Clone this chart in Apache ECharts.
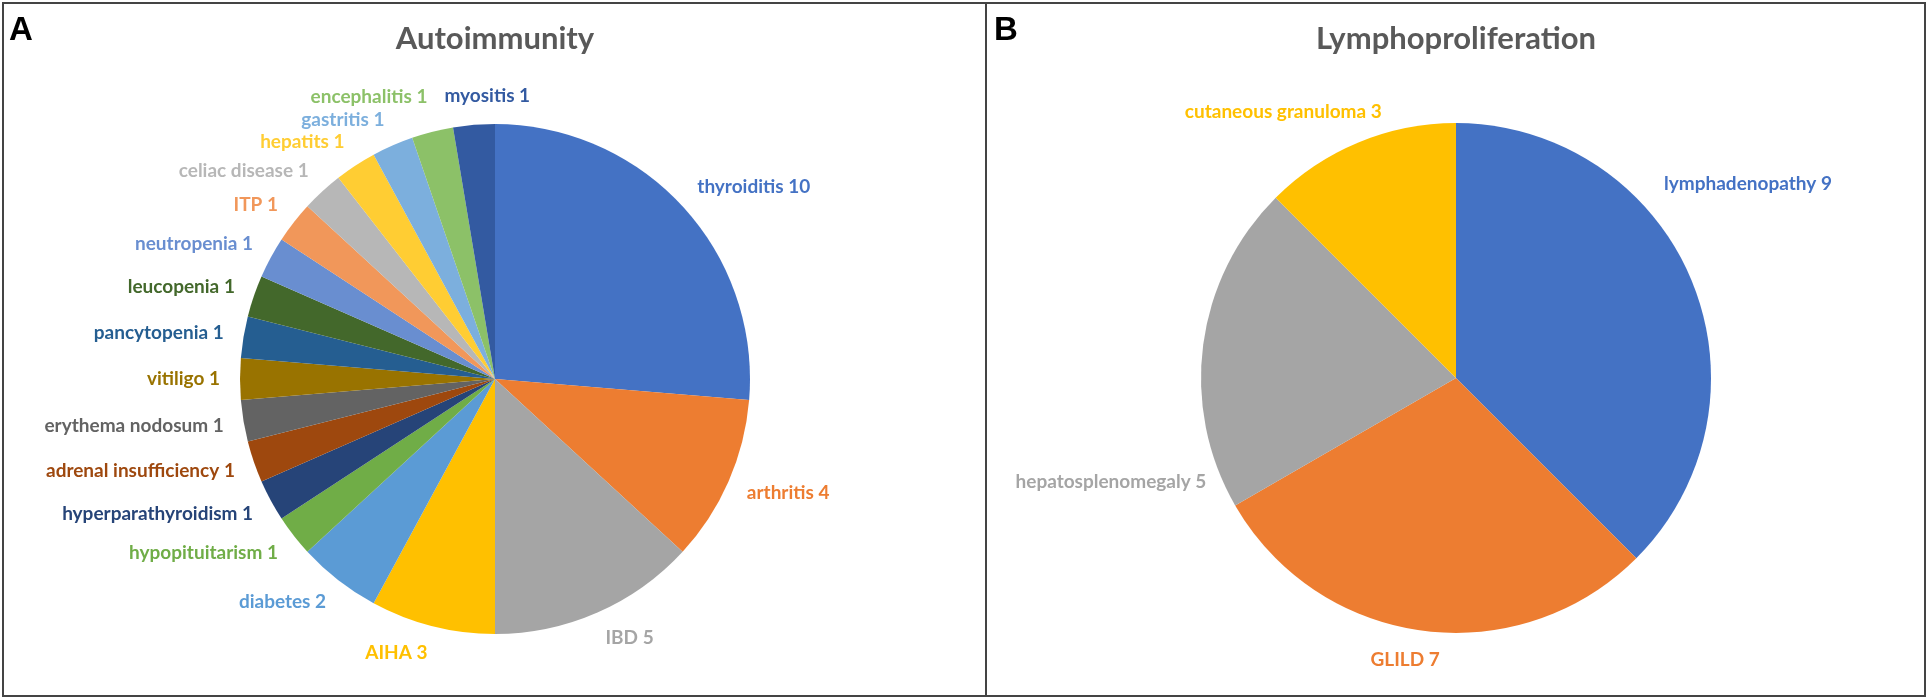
<!DOCTYPE html>
<html>
<head>
<meta charset="utf-8">
<script src="https://cdn.jsdelivr.net/npm/echarts@6/dist/echarts.min.js"></script>
<style>
  html, body { margin: 0; padding: 0; background: #fff; }
  #chart { width: 1928px; height: 699px; }
</style>
</head>
<body>
<div id="chart"></div>
<script>
// panel A - autoimmunity
var autoNames = ['thyroiditis', 'arthritis', 'IBD', 'AIHA', 'diabetes', 'hypopituitarism',
  'hyperparathyroidism', 'adrenal insufficiency', 'erythema nodosum', 'vitiligo', 'pancytopenia',
  'leucopenia', 'neutropenia', 'ITP', 'celiac disease', 'hepatits', 'gastritis', 'encephalitis', 'myositis']
var autoValues = [10, 4, 5, 3, 2, 1, 1, 1, 1, 1, 1, 1, 1, 1, 1, 1, 1, 1, 1]
var autoColors = ['#4472C4', '#ED7D31', '#A5A5A5', '#FFC000', '#5B9BD5', '#70AD47', '#264478',
  '#9E480E', '#636363', '#997300', '#255E91', '#43682B', '#698ED0', '#F1975A', '#B7B7B7',
  '#FFCD33', '#7CAFDD', '#8CC168', '#335AA1']

// panel B - lymphoproliferation
var lymphNames = ['lymphadenopathy', 'GLILD', 'hepatosplenomegaly', 'cutaneous granuloma']
var lymphValues = [9, 7, 5, 3]
var lymphColors = ['#4472C4', '#ED7D31', '#A5A5A5', '#FFC000']

var R = 255
var GAP = 20
var centerA = [495, 379]
var centerB = [1456, 378]
var labelFont = 'Lato, "Open Sans", sans-serif'

// labels that excel moved off the default spot
var nudgeA = { myositis: [15, 0], encephalitis: [0, -8] }
var nudgeB = { lymphadenopathy: [-46, -86], hepatosplenomegaly: [23, 141], 'cutaneous granuloma': [31, -5], GLILD: [-15, 0] }

function toData(names, values, colors) {
  return names.map(function (n, i) {
    return {
      name: n, value: values[i],
      itemStyle: { color: colors[i] },
      label: { color: colors[i] }
    }
  })
}

// "outside end" label like excel: anchored at the slice middle angle
function outsideEnd(values, center, nudge) {
  var total = values.reduce(function (a, b) { return a + b }, 0)
  return function (params) {
    var i = params.dataIndex
    var cum = 0
    for (var k = 0; k < i; k++) cum += values[k]
    var t = 2 * Math.PI * (cum + values[i] / 2) / total
    var s = Math.sin(t), c = Math.cos(t)
    var x = center[0] + (R + GAP) * s
    var y = center[1] - (R + GAP) * c
    var align, va = 'middle'
    if (Math.abs(s) < 0.15) {
      align = 'center'
      va = c > 0 ? 'bottom' : 'top'
    } else {
      align = s > 0 ? 'left' : 'right'
      y -= c * 8
    }
    var n = nudge && nudge[params.text.replace(/ \d+$/, '')]
    if (n) { x += n[0]; y += n[1] }
    return { x: x, y: y, align: align, verticalAlign: va }
  }
}

function pieSeries(names, values, colors, center, nudge) {
  return {
    type: 'pie',
    center: center,
    radius: R,
    startAngle: 90,
    clockwise: true,
    avoidLabelOverlap: false,
    animation: false,
    silent: true,
    itemStyle: { borderWidth: 0 },
    label: {
      show: true,
      position: 'outside',
      formatter: '{b} {c}',
      fontFamily: labelFont,
      fontWeight: 'bold',
      fontSize: 19
    },
    labelLine: { show: false },
    labelLayout: outsideEnd(values, center, nudge),
    data: toData(names, values, colors)
  }
}

var myChart = echarts.init(document.getElementById('chart'))
var option = {
  backgroundColor: '#fff',
  graphic: [
    // panel frames
    { type: 'rect', shape: { x: 3, y: 3, width: 983, height: 693 }, style: { fill: 'none', stroke: '#444', lineWidth: 2 } },
    { type: 'rect', shape: { x: 986, y: 3, width: 939, height: 693 }, style: { fill: 'none', stroke: '#444', lineWidth: 2 } },
    { type: 'text', x: 9, y: 14, style: { text: 'A', font: 'bold 33px "Liberation Sans", Arial, sans-serif', fill: '#000' } },
    { type: 'text', x: 994, y: 14, style: { text: 'B', font: 'bold 33px "Liberation Sans", Arial, sans-serif', fill: '#000' } },
    { type: 'text', x: centerA[0], y: 39, style: { text: 'Autoimmunity', font: 'bold 31px ' + labelFont, fill: '#595959', textAlign: 'center', textVerticalAlign: 'middle' } },
    { type: 'text', x: centerB[0], y: 39, style: { text: 'Lymphoproliferation', font: 'bold 31px ' + labelFont, fill: '#595959', textAlign: 'center', textVerticalAlign: 'middle' } }
  ],
  series: [
    pieSeries(autoNames, autoValues, autoColors, centerA, nudgeA),
    pieSeries(lymphNames, lymphValues, lymphColors, centerB, nudgeB)
  ]
}
myChart.setOption(option)
window.addEventListener('resize', function () {
  myChart.resize()
})
</script>
</body>
</html>
